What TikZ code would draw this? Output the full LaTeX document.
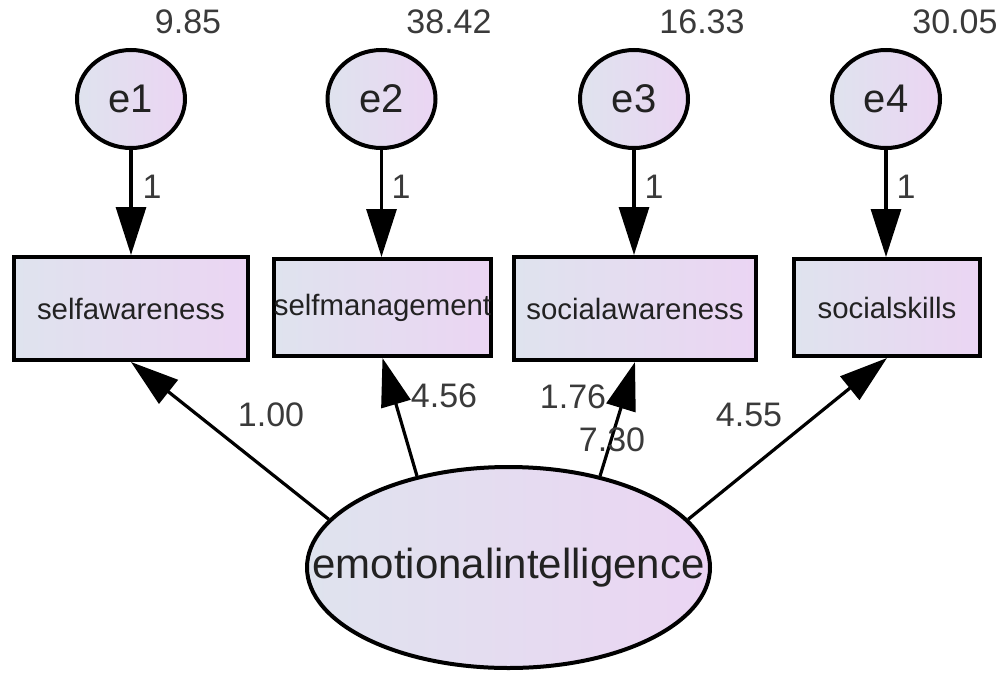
\documentclass[tikz,border=0pt]{standalone}
\usepackage{fontspec}
\setmainfont{Liberation Sans}
\usetikzlibrary{arrows.meta,shapes.geometric}
\definecolor{fillL}{HTML}{DFE3EE}
\definecolor{fillR}{HTML}{EBD5F3}
\definecolor{varText}{HTML}{222222}
\definecolor{numText}{HTML}{3A3A3A}
\begin{document}
\begin{tikzpicture}[x=1pt,y=-1pt,
  shaded/.style={draw=black, line width=4pt, left color=fillL, right color=fillR, inner sep=0pt, text=varText},
  errvar/.style={shaded, ellipse, minimum width=108pt, minimum height=98pt, font=\fontsize{40}{40}\selectfont},
  observed/.style={shaded, rectangle, font=\fontsize{29.4}{30}\selectfont},
  factor/.style={shaded, ellipse, inner xsep=-54pt, minimum width=403pt, minimum height=201pt, font=\fontsize{42}{42}\selectfont},
  reg/.style={line width=3.2pt, -{Triangle[length=48pt,width=30pt]}},
  num/.style={font=\fontsize{34}{34}\selectfont, text=numText, inner sep=0pt}
]
\useasboundingbox (0,0) rectangle (1001,672);

% error terms
\node[errvar] (e1) at (131,99) {e1};
\node[errvar] (e2) at (381.5,99) {e2};
\node[errvar] (e3) at (634,99) {e3};
\node[errvar] (e4) at (886,99) {e4};

% observed indicators
\node[observed, minimum width=234pt, minimum height=103pt] (b1) at (131,308.5) {selfawareness};
\node[observed, minimum width=211pt, minimum height=97pt] (b2) at (382.5,307.5) {selfmanagement};
\node[observed, minimum width=242pt, minimum height=103pt] (b3) at (635,308.5) {socialawareness};
\node[observed, minimum width=186pt, minimum height=97pt] (b4) at (887,307.5) {socialskills};

% latent factor
\node[factor] (ei) at (508.5,567.5) {emotionalintelligence};

% error paths
\draw[reg] (e1.south) -- (e1.south |- b1.north);
\draw[reg] (e2.south) -- (e2.south |- b2.north);
\draw[reg] (e3.south) -- (e3.south |- b3.north);
\draw[reg] (e4.south) -- (e4.south |- b4.north);

% loadings
\draw[reg] (ei.165) -- (b1.south);
\draw[reg] (ei.135) -- (b2.south);
\draw[reg] (ei.45) -- (b3.south);
\draw[reg] (ei.15) -- (b4.south);

% variances
\node[num] (v1) at (188,22) {9.85};
\node[num] (v2) at (449,22) {38.42};
\node[num] (v3) at (702,22) {16.33};
\node[num] (v4) at (955,22) {30.05};

% fixed error weights
\node[num] (w1) at (152,187) {1};
\node[num] (w2) at (401,187) {1};
\node[num] (w3) at (654,187) {1};
\node[num] (w4) at (906,187) {1};

% loading estimates
\node[num] (l1) at (271,415) {1.00};
\node[num] (l2) at (444,396) {4.56};
\node[num] (l3) at (573,397) {1.76};
\node[num] (l3b) at (612,440) {7.30};
\node[num] (l4) at (749,415) {4.55};
\end{tikzpicture}
\end{document}
